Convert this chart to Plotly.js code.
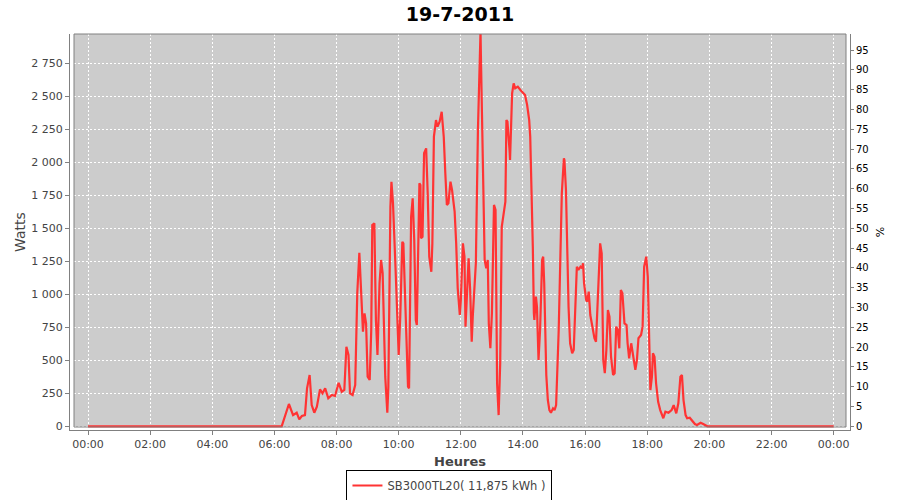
<!DOCTYPE html>
<html>
<head>
<meta charset="utf-8">
<script src="https://cdn.plot.ly/plotly-3.0.1.min.js"></script>
<style>html,body{margin:0;padding:0;background:#fff;}#chart{width:900px;height:500px;}</style>
</head>
<body>
<div id="chart"></div>
<script>
const DAY = "2011-07-19";
const NEXT_DAY = "2011-07-20";
const chartTitle = "19-7-2011";
const seriesName = "SB3000TL20( 11,875 kWh )";
const xTitle = "Heures";
const yTitle = "Watts";
const y2Title = "%";

const times = ["00:00","06:14","06:28","06:36","06:43","06:48","06:53","06:59","07:03","07:08","07:12","07:17","07:22","07:28","07:33","07:38","07:44","07:51","07:57","08:04","08:10","08:15","08:19","08:23","08:26","08:31","08:36","08:40","08:44","08:47","08:51","08:54","08:57","09:00","09:04","09:07","09:09","09:13","09:16","09:19","09:23","09:26","09:29","09:34","09:38","09:40","09:44","09:46","09:49","09:55",
"10:00","10:03","10:07","10:09","10:14","10:18","10:20","10:24","10:27","10:30","10:33","10:35","10:40","10:42","10:43","10:46","10:49","10:53","10:56","10:59","11:03","11:05","11:08","11:12","11:15","11:19","11:23","11:27","11:30","11:33","11:36","11:40","11:43","11:48","11:51","11:54","11:58",
"12:00","12:04","12:07","12:09","12:12","12:15","12:18","12:21","12:23","12:26","12:29","12:33","12:36","12:38","12:39","12:42","12:46","12:49","12:52","12:54","12:57","13:00","13:04","13:07","13:10","13:13","13:16","13:19","13:23","13:26","13:28","13:30","13:34","13:35","13:39","13:42","13:45","13:50","13:55",
"14:00","14:04","14:08","14:12","14:14","14:16","14:19","14:21","14:22","14:25","14:27","14:30","14:33","14:37","14:39","14:41","14:45","14:48","14:51","14:54","14:58","15:01","15:04","15:09","15:12","15:15","15:19","15:20","15:23","15:25","15:28","15:31","15:35","15:38","15:41","15:44","15:47","15:51","15:54","15:56","15:58",
"16:02","16:04","16:07","16:10","16:14","16:18","16:21","16:25","16:29","16:32","16:35","16:38","16:41","16:44","16:47","16:50","16:54","16:57","17:00","17:03","17:06","17:09","17:12","17:16","17:20","17:22","17:25","17:29","17:34","17:37","17:40","17:43","17:48","17:51","17:54","17:58",
"18:01","18:03","18:06","18:09","18:11","18:14","18:17","18:21","18:25","18:31","18:35","18:41","18:47","18:51","18:56","19:00","19:04","19:07","19:10","19:14","19:17","19:22","19:27","19:32","19:36","19:43","19:48","19:56","24:00"];

const watts = [0,0,169,85,103,53,78,85,288,389,161,103,149,280,250,288,212,237,230,330,262,275,603,540,250,237,313,1008,1315,1083,717,856,780,376,351,730,1525,1538,805,540,1083,1260,1159,376,103,300,1664,1853,1689,1083,
540,830,1398,1386,679,300,288,1588,1727,1411,805,767,1841,1828,1424,1436,2068,2106,1765,1285,1171,1386,2194,2320,2270,2308,2383,2194,1917,1677,1689,1853,1790,1626,1386,1045,843,
957,1386,1285,755,1058,1273,1033,641,830,1058,1235,2245,2851,2990,2750,2194,1260,1197,1260,780,591,856,1677,1639,326,85,477,1512,1626,1702,2320,2308,2093,2017,2523,2598,2561,2573,2548,
2527,2510,2434,2320,2194,1917,1361,856,805,982,906,502,730,1260,1285,1083,389,199,123,103,136,123,161,730,1235,1765,2030,2017,1790,1361,906,629,553,578,856,1209,1184,1209,1197,1235,1083,
957,944,1020,843,742,667,641,1008,1386,1311,502,402,578,881,830,527,389,402,755,730,591,1033,1008,780,767,629,515,629,477,427,502,667,692,755,1209,1285,
1133,730,275,376,553,527,326,186,123,61,111,103,123,161,98,174,376,389,199,85,61,65,42,17,10,27,17,0,0];

const xTicks = ["00:00","02:00","04:00","06:00","08:00","10:00","12:00","14:00","16:00","18:00","20:00","22:00","00:00"];
const yTickVals = [0,250,500,750,1000,1250,1500,1750,2000,2250,2500,2750];
const yTickText = ["0","250","500","750","1 000","1 250","1 500","1 750","2 000","2 250","2 500","2 750"];

if (times.length !== watts.length) {
  document.body.innerHTML = "<h1>MISMATCH " + times.length + " vs " + watts.length + "</h1>";
}

function toDate(t) {
  return t === "24:00" ? NEXT_DAY + " 00:00" : DAY + " " + t;
}
const xDates = times.map(toDate);
const xTickVals = xTicks.map((t, i) => i === xTicks.length - 1 ? NEXT_DAY + " 00:00" : DAY + " " + t);

const FONT = "DejaVu Sans, sans-serif";
const GRAY = "#808080";

const traces = [
  {
    x: xDates, y: watts, type: "scatter", mode: "lines",
    name: seriesName,
    line: {color: "#ff3333", width: 2.2},
    yaxis: "y"
  },
  {
    x: [], y: [], type: "scatter", mode: "lines",
    yaxis: "y2", showlegend: false, hoverinfo: "skip"
  }
];

const layout = {
  width: 900, height: 500,
  margin: {l: 70, r: 50, t: 34, b: 70, autoexpand: false},
  paper_bgcolor: "#ffffff",
  plot_bgcolor: "#ffffff",
  font: {family: FONT, color: "#444444"},
  title: {
    text: "<b>" + chartTitle + "</b>",
    font: {family: FONT, size: 19, color: "#000000"},
    x: 0.5, xanchor: "center", xref: "paper",
    y: 0.972, yanchor: "middle", yref: "container"
  },
  xaxis: {
    type: "date", automargin: false,
    range: ["2011-07-18 23:25:15", "2011-07-20 00:31:30"],
    tickvals: xTickVals, ticktext: xTicks,
    ticks: "outside", ticklen: 4, tickcolor: GRAY,
    showline: true, linecolor: GRAY, linewidth: 1,
    showgrid: true, gridcolor: "#ffffff", griddash: "2px,2px", gridwidth: 1,
    zeroline: false,
    tickfont: {family: FONT, size: 11, color: "#444444"},
    title: {text: "<b>" + xTitle + "</b>", font: {family: FONT, size: 13, color: "#444444"}, standoff: 6}
  },
  yaxis: {
    automargin: false,
    range: [-28, 2972],
    tickvals: yTickVals, ticktext: yTickText,
    ticks: "outside", ticklen: 4, tickcolor: GRAY,
    showline: true, linecolor: GRAY, linewidth: 1,
    showgrid: true, gridcolor: "#ffffff", griddash: "2px,2px", gridwidth: 1,
    zeroline: false,
    tickfont: {family: FONT, size: 11, color: "#444444"},
    title: {text: yTitle, font: {family: FONT, size: 14, color: "#444444"}, standoff: 2}
  },
  yaxis2: {
    automargin: false,
    overlaying: "y", side: "right",
    range: [-0.93, 99.07],
    tick0: 0, dtick: 5,
    ticks: "outside", ticklen: 3, tickcolor: GRAY,
    showline: true, linecolor: GRAY, linewidth: 1,
    showgrid: false, zeroline: false,
    tickfont: {family: FONT, size: 10, color: "#000000"},
    title: {text: y2Title, font: {family: FONT, size: 11, color: "#000000"}, standoff: 8}
  },
  showlegend: true,
  legend: {
    orientation: "h",
    xref: "container", yref: "container",
    x: 0.4994, xanchor: "center",
    y: 0.029, yanchor: "middle",
    bgcolor: "#ffffff", bordercolor: "#000000", borderwidth: 1,
    font: {family: FONT, size: 11.5, color: "#444444"},
    itemwidth: 30
  },
  shapes: [
    {type: "rect", xref: "paper", yref: "paper", x0: 4/780, x1: 776/780, y0: 3/396, y1: 1,
     fillcolor: "#cccccc", line: {width: 0}, layer: "below"},
    {type: "rect", xref: "paper", yref: "paper", x0: 4/780, x1: 776/780, y0: 3/396, y1: 1,
     fillcolor: "rgba(0,0,0,0)", line: {color: GRAY, width: 1}, layer: "above"}
  ]
};

Plotly.newPlot("chart", traces, layout, {displayModeBar: false, staticPlot: true});
</script>
</body>
</html>
